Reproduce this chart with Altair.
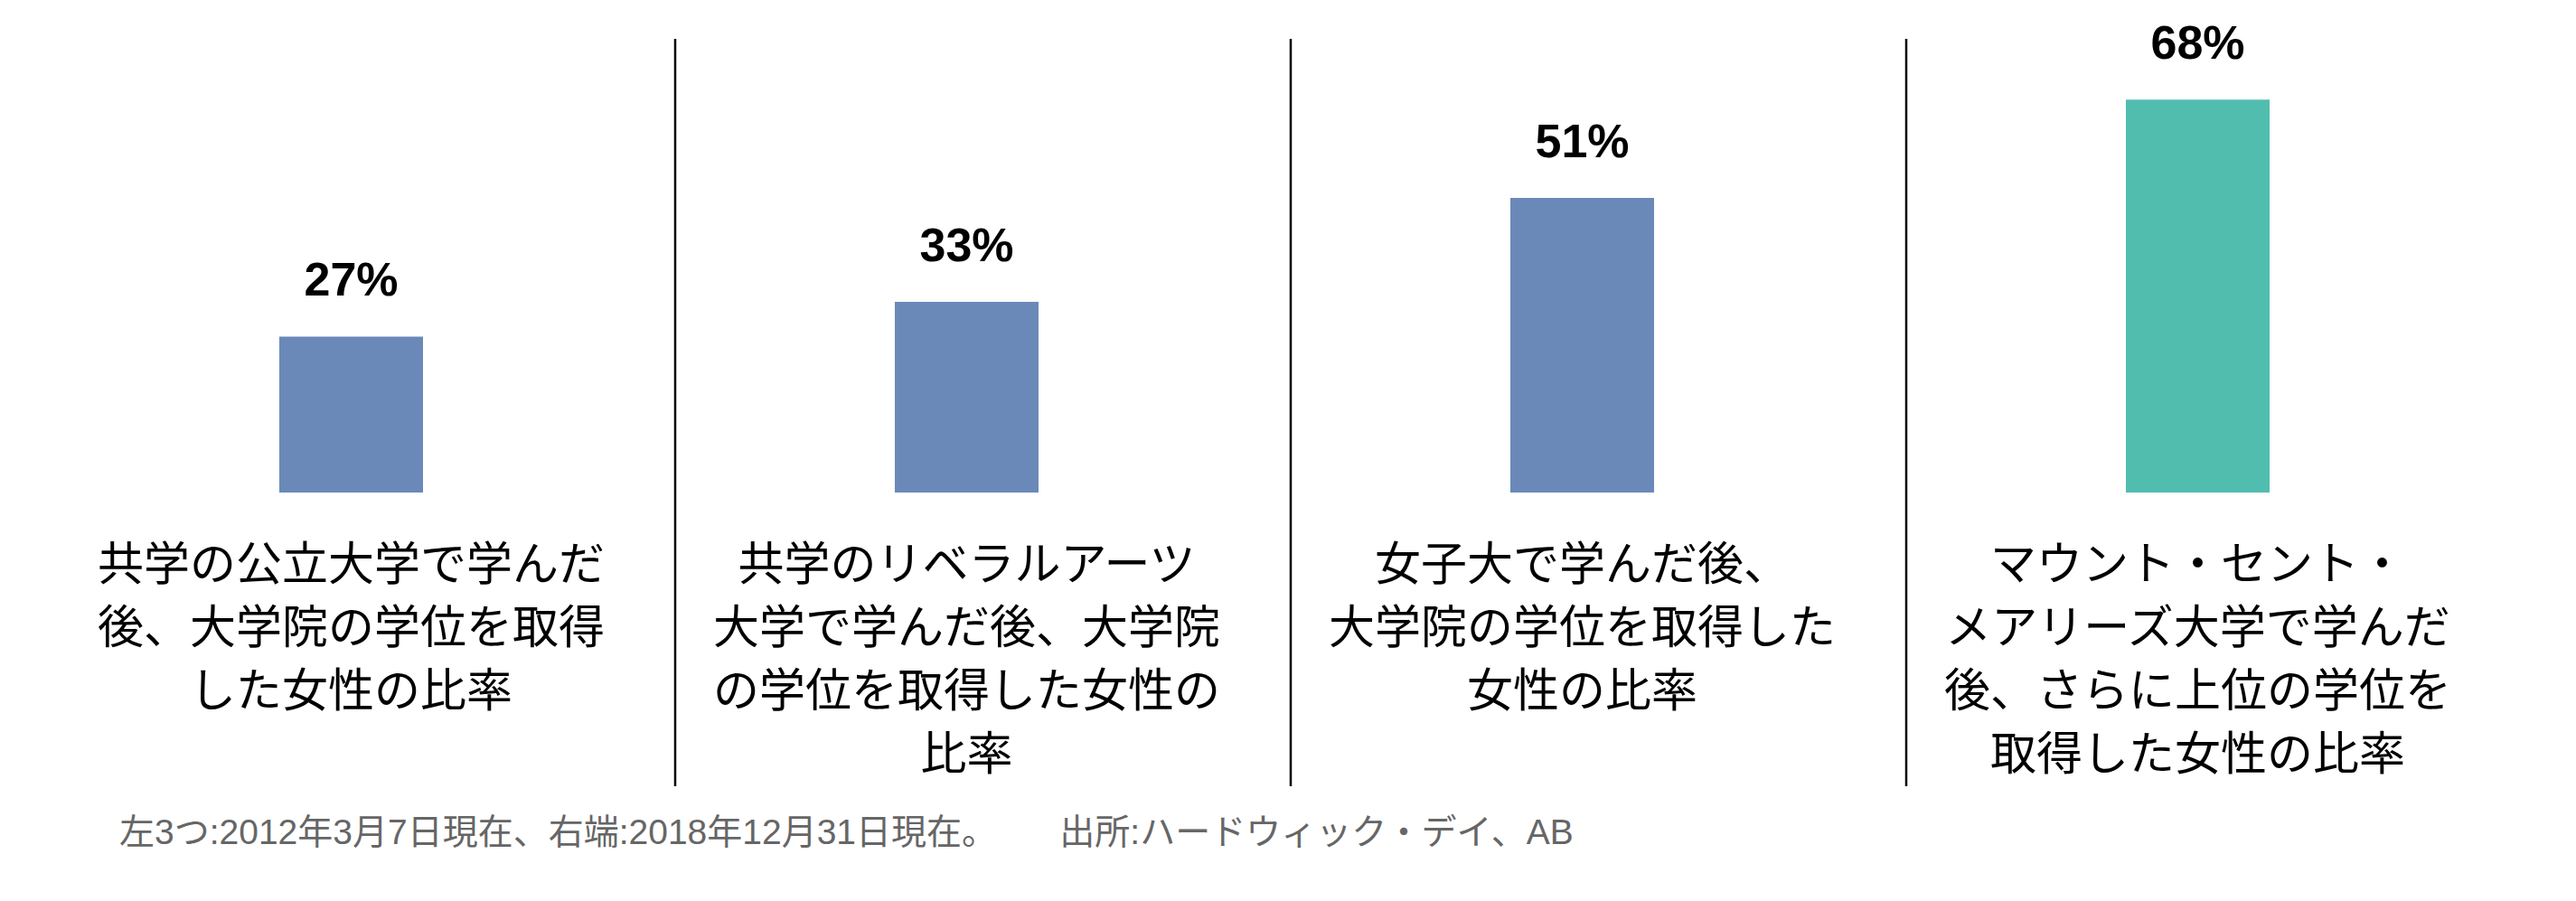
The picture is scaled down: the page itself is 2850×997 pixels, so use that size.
import altair as alt
import pandas as pd

# ---- data ----
categories = [
    "共学の公立大学で学んだ\n後、大学院の学位を取得\nした女性の比率",
    "共学のリベラルアーツ\n大学で学んだ後、大学院\nの学位を取得した女性の\n比率",
    "女子大で学んだ後、\n大学院の学位を取得した\n女性の比率",
    "マウント・セント・\nメアリーズ大学で学んだ\n後、さらに上位の学位を\n取得した女性の比率",
]
values = [27, 33, 51, 68]
value_labels = ["27%", "33%", "51%", "68%"]
footnote = "左3つ:2012年3月7日現在、右端:2018年12月31日現在。　　 出所:ハードウィック・デイ、AB"

bar_colors = ["#6A89B9", "#6A89B9", "#6A89B9", "#51BDAF"]

df = pd.DataFrame({"cat": categories, "value": values, "label": value_labels})
df_div = pd.DataFrame({"cat": categories[:3]})
df_note = pd.DataFrame({"t": [footnote]})

STEP = 681
X0 = 40
xscale = alt.Scale(type="band", domain=categories, range=[X0, X0 + 4 * STEP],
                   paddingInner=0, paddingOuter=0)
yscale = alt.Scale(domain=[0, 84], range=[537, 0], nice=False, zero=True)

x_enc = alt.X("cat:N", sort=categories, scale=xscale, axis=None)
y_enc = alt.Y("value:Q", scale=yscale, axis=None)

base = alt.Chart(df)

bars = base.mark_bar(size=159).encode(
    x=x_enc,
    y=y_enc,
    color=alt.Color("cat:N", scale=alt.Scale(domain=categories, range=bar_colors), legend=None),
)

val_text = base.mark_text(
    font="Liberation Sans", fontSize=52, fontWeight="bold",
    baseline="alphabetic", align="center", dy=-45, color="#000000",
).encode(x=x_enc, y=y_enc, text="label:N")

cat_text = base.mark_text(
    font="Noto Sans CJK JP", fontSize=51, lineBreak="\n", lineHeight=70,
    baseline="top", align="center", color="#000000",
).encode(x=x_enc, y=alt.value(594), text="cat:N")

dividers = alt.Chart(df_div).mark_rule(strokeWidth=2.5, color="#000000", xOffset=18).encode(
    x=alt.X("cat:N", sort=categories, scale=xscale, axis=None, bandPosition=1),
    y=alt.value(35),
    y2=alt.value(862),
)

note = alt.Chart(df_note).mark_text(
    font="Liberation Sans, Noto Sans CJK JP", fontSize=39, color="#666666",
    align="left", baseline="alphabetic",
).encode(x=alt.value(124), y=alt.value(926), text="t:N")

chart = alt.layer(dividers, bars, val_text, cat_text, note).properties(
    width=2834, height=981,
    autosize=alt.AutoSizeParams(type="none"),
    padding=0,
).configure_view(stroke=None)

chart.save("out.html", embed_options={"renderer": "svg", "actions": False})
